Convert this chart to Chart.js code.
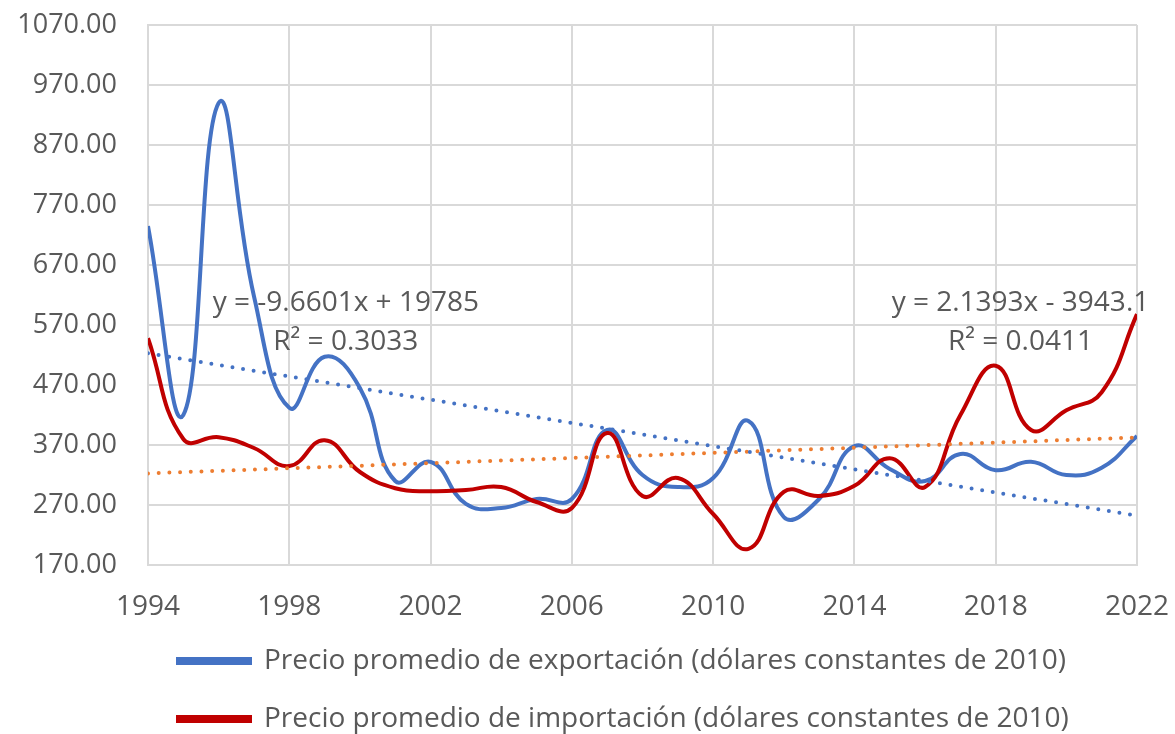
<!DOCTYPE html>
<html>
<head>
<meta charset="utf-8">
<script src="https://cdn.jsdelivr.net/npm/chart.js@4.4.1/dist/chart.umd.min.js"></script>
<style>
  html, body { margin: 0; padding: 0; background: #ffffff; }
  canvas { display: block; }
</style>
</head>
<body>
<canvas id="c" width="1175" height="734"></canvas>
<script>
const years = [1994,1995,1996,1997,1998,1999,2000,2001,2002,2003,2004,2005,2006,2007,2008,2009,2010,2011,2012,2013,2014,2015,2016,2017,2018,2019,2020,2021,2022];
const exportPrices = [735,420,940,618,432,517,465,310,342,272,265,280,280,395,320,300,315,410,250,280,368,330,310,355,328,342,320,332,385];
const importPrices = [548,380,383,365,335,378,325,298,293,295,300,275,265,390,285,315,255,197,292,285,302,348,300,420,502,395,428,458,588];
const exportLabel = 'Precio promedio de exportación (dólares constantes de 2010)';
const importLabel = 'Precio promedio de importación (dólares constantes de 2010)';
// Trendline equations as displayed on the chart
const exportTrend = { slope: -9.6601, intercept: 19785, r2: '0.3033', text: 'y = -9.6601x + 19785' };
const importTrend = { slope: 2.1393, intercept: -3943.1, r2: '0.0411', text: 'y = 2.1393x - 3943.1' };
const yTicks = [170,270,370,470,570,670,770,870,970,1070];
const xTicks = [1994,1998,2002,2006,2010,2014,2018,2022];

const BLUE = '#4472C4', RED = '#C00000', ORANGE = '#ED7D31', TEXT = '#595959', GRID = '#D9D9D9';
const FONT = '"Open Sans", "DejaVu Sans", sans-serif';

function trendPoints(t) {
  const x0 = years[0], x1 = years[years.length - 1];
  return [{x: x0, y: t.slope * x0 + t.intercept}, {x: x1, y: t.slope * x1 + t.intercept}];
}

const labelPlugin = {
  id: 'trendLabels',
  afterDatasetsDraw(chart) {
    const {ctx, scales: {x, y}} = chart;
    ctx.save();
    ctx.fillStyle = TEXT;
    ctx.font = '28px ' + FONT;
    ctx.textAlign = 'center';
    ctx.textBaseline = 'middle';
    ctx.fillText(exportTrend.text, x.getPixelForValue(1999.6), y.getPixelForValue(607));
    ctx.fillText('R² = ' + exportTrend.r2, x.getPixelForValue(1999.6), y.getPixelForValue(542));
    ctx.fillText(importTrend.text, x.getPixelForValue(2018.7), y.getPixelForValue(607));
    ctx.fillText('R² = ' + importTrend.r2, x.getPixelForValue(2018.7), y.getPixelForValue(542));
    ctx.restore();
  }
};

new Chart(document.getElementById('c'), {
  type: 'line',
  data: {
    datasets: [
      { label: exportLabel, data: years.map((yr, i) => ({x: yr, y: exportPrices[i]})),
        borderColor: BLUE, backgroundColor: BLUE, borderWidth: 4, pointRadius: 0, tension: 0.45, order: 4 },
      { label: importLabel, data: years.map((yr, i) => ({x: yr, y: importPrices[i]})),
        borderColor: RED, backgroundColor: RED, borderWidth: 4, pointRadius: 0, tension: 0.45, order: 3 },
      { label: 'trendExport', data: trendPoints(exportTrend), borderColor: BLUE, borderWidth: 4,
        borderDash: [0, 10.7], borderCapStyle: 'round', pointRadius: 0, tension: 0, order: 1 },
      { label: 'trendImport', data: trendPoints(importTrend), borderColor: ORANGE, borderWidth: 4,
        borderDash: [0, 10.7], borderCapStyle: 'round', pointRadius: 0, tension: 0, order: 2 }
    ]
  },
  options: {
    responsive: false,
    animation: false,
    layout: { padding: { top: 25, right: 38, left: 0, bottom: -9 } },
    plugins: {
      tooltip: { enabled: false },
      legend: {
        position: 'bottom',
        align: 'start',
        fullSize: false,
        labels: {
          sort: (a, b) => a.datasetIndex - b.datasetIndex,
          filter: (item) => item.datasetIndex < 2,
          boxWidth: 72, boxHeight: 4,
          color: TEXT,
          font: { family: FONT, size: 28 },
          padding: 30
        }
      }
    },
    scales: {
      x: {
        type: 'linear', min: 1994, max: 2022,
        afterFit(s) { s.height = 52; },
        afterBuildTicks(s) { s.ticks = xTicks.map(v => ({value: v})); },
        ticks: { stepSize: 4, padding: 0, color: TEXT, font: { family: FONT, size: 28 }, callback: v => String(v), maxRotation: 0 },
        grid: { color: GRID, lineWidth: 2, drawTicks: true, tickLength: 25, tickColor: 'rgba(0,0,0,0)' },
        border: { color: GRID, width: 2 }
      },
      y: {
        type: 'linear', min: 170, max: 1070,
        afterFit(s) { s.width = 148; },
        afterBuildTicks(s) { s.ticks = yTicks.map(v => ({value: v})); },
        ticks: { stepSize: 100, padding: 0, color: TEXT, font: { family: FONT, size: 27 }, callback: v => Number(v).toFixed(2) },
        grid: { color: GRID, lineWidth: 2, drawTicks: true, tickLength: 31, tickColor: 'rgba(0,0,0,0)' },
        border: { color: GRID, width: 2 }
      }
    }
  },
  plugins: [labelPlugin]
});
</script>
</body>
</html>
